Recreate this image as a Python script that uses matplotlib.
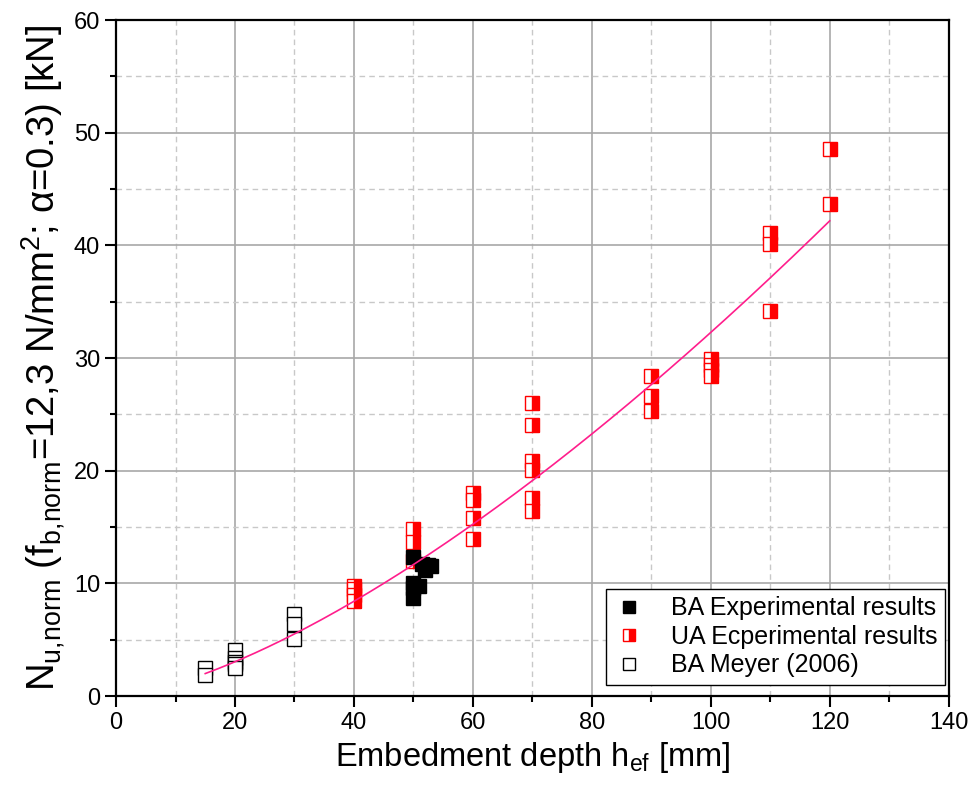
import numpy as np
import matplotlib.pyplot as plt

plt.rcParams['font.family'] = ['Liberation Sans', 'DejaVu Sans']
plt.rcParams['mathtext.fontset'] = 'custom'
plt.rcParams['mathtext.rm'] = 'Liberation Sans'
plt.rcParams['mathtext.it'] = 'Liberation Sans:italic'

# BA experimental results (filled black)
ba_x = [50, 50, 50, 50, 51, 51.5, 52, 52.5, 53]
ba_y = [12.3, 10.0, 9.6, 8.7, 9.8, 11.7, 11.2, 11.6, 11.5]

# UA experimental results (half filled red)
ua_x = [40, 40, 40, 40, 50, 50, 50, 60, 60, 60, 60,
        70, 70, 70, 70, 70, 70, 90, 90, 90,
        100, 100, 100, 100, 110, 110, 110, 120, 120]
ua_y = [9.8, 9.5, 9.0, 8.4, 14.8, 13.7, 12.0, 18.0, 17.4, 15.8, 13.9,
        26.0, 24.1, 20.9, 20.1, 17.6, 16.4, 28.4, 26.6, 25.3,
        29.9, 29.4, 28.9, 28.4, 41.1, 40.1, 34.2, 48.6, 43.7]

# BA Meyer (2006) (open black)
meyer_x = [15, 15, 20, 20, 20, 20, 20, 30, 30, 30]
meyer_y = [2.5, 1.9, 4.1, 3.4, 3.0, 2.8, 2.5, 7.3, 6.4, 5.1]

# power-law trend line N = a * hef^b, parameters
fit_a, fit_b = 0.0374, 1.468
fit_range = (15, 120)
fit_x = np.linspace(fit_range[0], fit_range[1], 200)
fit_y = fit_a * fit_x ** fit_b

fig = plt.figure(figsize=(9.71, 8.05), dpi=100)
ax = fig.add_axes([0.1195, 0.1354, 0.8575, 0.8396])

ms = 10
ax.plot(ba_x, ba_y, 's', color='black', ms=ms, mec='black', mew=1,
        label='BA Experimental results', zorder=3.5)
ax.plot(ua_x, ua_y, 's', ms=ms, fillstyle='right', mfc='red', mfcalt='white',
        mec='red', mew=1, label='UA Ecperimental results', zorder=3)
ax.plot(meyer_x, meyer_y, 's', ms=ms, mfc='white', mec='black', mew=1,
        label='BA Meyer (2006)', zorder=3)
ax.plot(fit_x, fit_y, color='#ff1e8c', lw=1.2, zorder=4)

ax.set_xlim(0, 140)
ax.set_ylim(0, 60)
ax.set_xticks(np.arange(0, 141, 20))
ax.set_xticks(np.arange(10, 140, 20), minor=True)
ax.set_yticks(np.arange(0, 61, 10))
ax.set_yticks(np.arange(5, 60, 10), minor=True)
ax.grid(which='major', color='#a8a8a8', lw=1.2, ls='-', zorder=0)
ax.grid(which='minor', color='#c8c8c8', lw=1.0, ls=(0, (4, 3)), zorder=0)
ax.set_axisbelow(True)

ax.tick_params(which='major', direction='out', length=8, width=1.5, labelsize=17)
ax.tick_params(which='minor', direction='out', length=4, width=1.5)
for s in ax.spines.values():
    s.set_linewidth(1.6)

ax.set_xlabel(r'Embedment depth h$_{\mathregular{ef}}$ [mm]', fontsize=23.5)
ax.set_ylabel(r'N$_{\mathregular{u{,}norm}}$ (f$_{\mathregular{b{,}norm}}$=12,3 N/mm$^{\mathregular{2}}$; α=0.3) [kN]',
              fontsize=27.5, labelpad=5)

leg = ax.legend(loc='lower right', fontsize=18, fancybox=False, framealpha=1,
                edgecolor='black', handlelength=1.3, handletextpad=1.0,
                borderpad=0.3, labelspacing=0.18, markerscale=0.85,
                borderaxespad=0, bbox_to_anchor=(0.9952, 0.0163))
leg.get_frame().set_linewidth(1.0)

fig.savefig('out.png', dpi=100)
